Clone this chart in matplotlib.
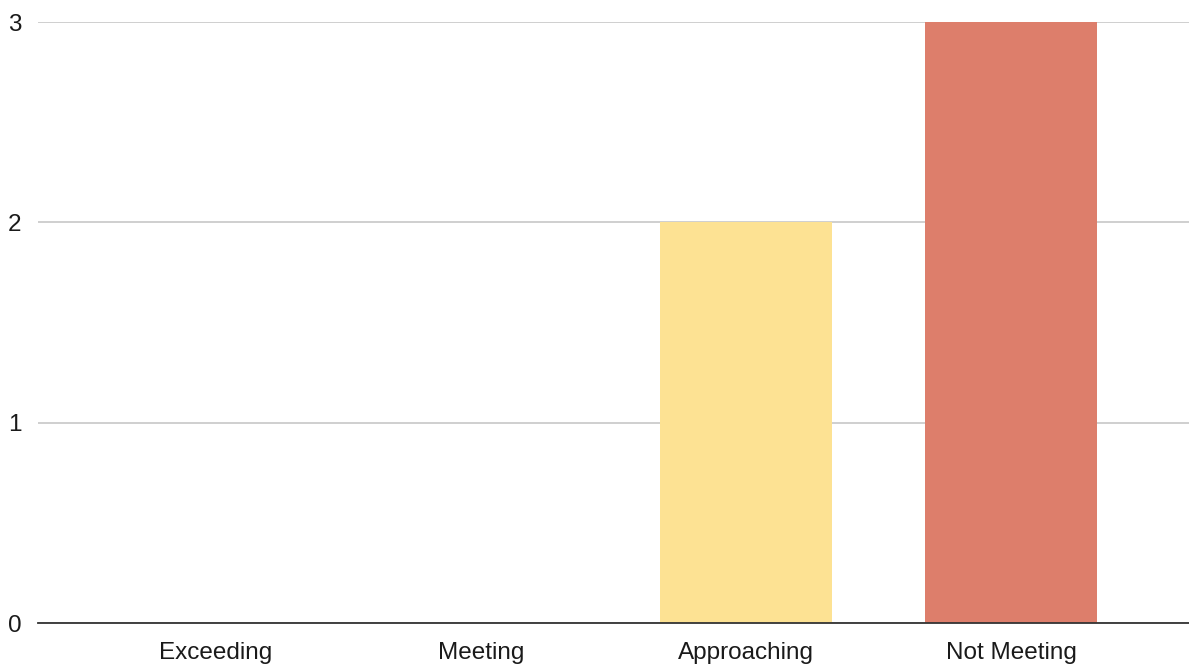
import matplotlib
matplotlib.use("Agg")
import matplotlib.pyplot as plt

categories = ["Exceeding", "Meeting", "Approaching", "Not Meeting"]
counts = [0, 0, 2, 3]
colors = ["#FDE293", "#FDE293", "#FDE293", "#DD7E6B"]
yticks = [0, 1, 2, 3]

plt.rcParams["font.family"] = ["Liberation Sans", "DejaVu Sans"]

fig = plt.figure(figsize=(11.89, 6.64), dpi=100)
ax = fig.add_axes([0.032, 0.0617, 0.968, 0.905])

x = list(range(len(categories)))
ax.bar(x, counts, width=0.648, color=colors, zorder=3)

ax.set_xlim(-0.67, 3.67)
ax.set_ylim(0, 3)
ax.set_yticks(yticks)
ax.set_yticklabels([str(v) for v in yticks])
ax.set_xticks(x)
ax.set_xticklabels(categories)

ax.grid(axis="y", color="#cccccc", lw=1.3, zorder=0)
for s in ["top", "right", "left"]:
    ax.spines[s].set_visible(False)
ax.spines["bottom"].set_color("#333333")
ax.spines["bottom"].set_linewidth(1.3)
ax.spines["bottom"].set_zorder(4)
ax.tick_params(axis="both", length=0, labelsize=17.5, colors="#1a1a1a")
ax.tick_params(axis="y", pad=12)
ax.tick_params(axis="x", pad=14)

fig.savefig("out.png", dpi=100)
